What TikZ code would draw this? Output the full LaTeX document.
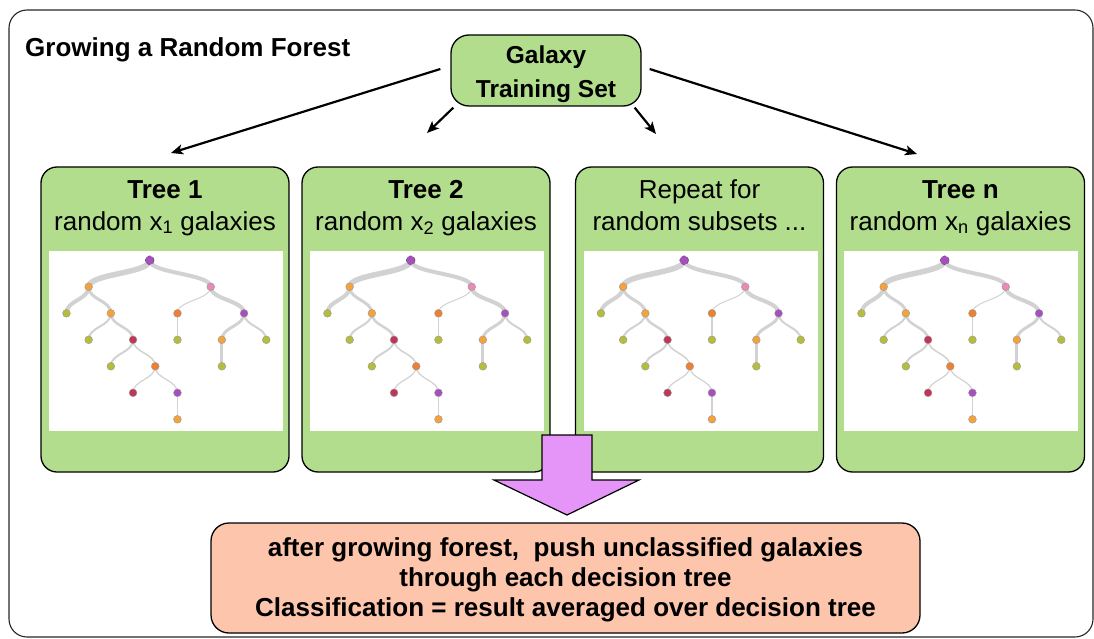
\documentclass[tikz,border=0pt]{standalone}
\usepackage{fontspec}
\setmainfont{Liberation Sans}
\usetikzlibrary{calc,arrows.meta}
\pgfdeclarelayer{edges}
\pgfdeclarelayer{dots}
\pgfsetlayers{main,edges,dots}
\definecolor{boxgreen}{HTML}{B1DD8C}
\definecolor{salmonfill}{HTML}{FCC5AC}
\definecolor{arrowpink}{HTML}{E595F7}
\definecolor{tpurple}{HTML}{A550BD}
\definecolor{torange}{HTML}{F5A13C}
\definecolor{tpink}{HTML}{E98BB5}
\definecolor{tolive}{HTML}{B4BE3C}
\definecolor{tdorange}{HTML}{EF7F33}
\definecolor{tcrimson}{HTML}{C13559}
\definecolor{tedgec}{HTML}{D2D2D2}
\tikzset{
  frame/.style={draw=black!85, line width=1.1pt, rounded corners=18pt, minimum width=1084pt, minimum height=627pt, inner sep=0pt},
  gbox/.style={draw=black, fill=boxgreen, line width=1.3pt, rounded corners=16pt, inner sep=0pt},
  treebox/.style={gbox, minimum width=248pt, minimum height=305pt},
  img/.style={fill=white, inner sep=0pt, minimum width=234pt, minimum height=180pt},
  lab/.style={font=\fontsize{26}{32}\selectfont, anchor=base, inner sep=0pt},
  labb/.style={lab, font=\bfseries\fontsize{26}{32}\selectfont},
  gallab/.style={font=\bfseries\fontsize{24.5}{33}\selectfont, anchor=base, inner sep=0pt},
  resbox/.style={draw=black, fill=salmonfill, line width=1.3pt, rounded corners=18pt, minimum width=709pt, minimum height=110pt, inner sep=0pt},
  restext/.style={align=center, inner sep=0pt, font=\bfseries\fontsize{26}{30}\selectfont},
  arr/.style={line width=2.2pt, -{Stealth[length=12pt,width=10pt,inset=3pt]}},
  blockarrow/.style={draw=black, fill=arrowpink, line width=1.2pt, line join=miter},
  tdot/.style={circle, inner sep=0pt, minimum size=7.8pt, draw=black!40, line width=0.4pt},
  tedge/.style={draw=tedgec, line cap=round},
}
\newcommand\drawtree[3]{%
  \begin{scope}[shift={(#2,#3)}]
    \begin{pgfonlayer}{dots}
      \node[tdot, fill=tpurple, draw=black!70, dashed, minimum size=9pt] (#1n0) at (0,0) {};
      \foreach \n/\c/\d/\col in {1/1/1/torange,2/6.5/1/tpink,3/0/2/tolive,4/2/2/torange,5/5/2/tdorange,6/8/2/tpurple,7/1/3/tolive,8/3/3/tcrimson,9/5/3/tolive,10/7/3/torange,11/9/3/tolive,12/2/4/tolive,13/4/4/tdorange,14/7/4/tolive,15/3/5/tcrimson,16/5/5/tpurple,17/5/6/torange}
        \node[tdot, fill=\col] (#1n\n) at ({22.2*(\c-3.75)},{26.5*\d}) {};
    \end{pgfonlayer}
  \end{scope}
  \begin{pgfonlayer}{edges}
    \foreach \a/\b/\w in {0/1/5.5,0/2/4,1/3/4,1/4/3,4/7/2,4/8/2.5,8/12/2,8/13/1.5,13/15/1.2,13/16/1.2,16/17/1.5,2/5/1,5/9/1.5,2/6/4,6/10/3,10/14/3,6/11/2}
      \draw[tedge, line width=\w pt] let \p1=(#1n\a.center), \p2=(#1n\b.center), \p3=($(\p1)!0.5!(\p2)$) in
        (\p1) .. controls (\x1,\y3) and (\x2,\y3) .. (\p2);
  \end{pgfonlayer}
}
\begin{document}
\begin{tikzpicture}[x=1pt,y=-1pt]
\useasboundingbox (0,0) rectangle (1094,639);
\node[frame] (frame) at (551,323.5) {};
\node[font=\bfseries\fontsize{26}{30}\selectfont, anchor=base west, inner sep=0pt] (title) at (25,57) {Growing a Random Forest};

% Galaxy training set
\node[gbox, rounded corners=18pt, minimum width=190pt, minimum height=71pt] (gal) at (546,70.5) {};
\node[gallab] (galt1) at (546,64) {Galaxy};
\node[gallab] (galt2) at (546,97.5) {Training Set};

% tree boxes
\node[treebox] (box1) at (165,319.5) {};
\node[treebox] (box2) at (426,319.5) {};
\node[treebox] (box3) at (699.5,319.5) {};
\node[treebox] (box4) at (960.5,319.5) {};
\node[img] (img1) at (166,341) {};
\node[img] (img2) at (427,341) {};
\node[img] (img3) at (700.5,341) {};
\node[img] (img4) at (961,341) {};

\node[labb] (l1a) at (165,198) {Tree 1};
\node[lab]  (l1b) at (165,230) {random x\textsubscript{1} galaxies};
\node[labb] (l2a) at (426,198) {Tree 2};
\node[lab]  (l2b) at (426,230) {random x\textsubscript{2} galaxies};
\node[lab]  (l3a) at (699.5,198) {Repeat for};
\node[lab]  (l3b) at (699.5,230) {random subsets ...};
\node[labb] (l4a) at (960.5,198) {Tree n};
\node[lab]  (l4b) at (960.5,230) {random x\textsubscript{n} galaxies};

\drawtree{ta}{149.7}{260.3}
\drawtree{tb}{410.7}{260.3}
\drawtree{tc}{684.2}{260.3}
\drawtree{td}{944.7}{260.3}

% arrows from training set
\coordinate (e1) at (171,153);
\coordinate (e2) at (427,133);
\coordinate (e3) at (656,134);
\coordinate (e4) at (917,154);
\draw[arr] ($(gal.west)+(-10,-1.5)$) -- (e1);
\draw[arr] ($(gal.south west)+(3,1)$) -- (e2);
\draw[arr] ($(gal.south east)+(-7,1)$) -- (e3);
\draw[arr] ($(gal.east)+(8,-1.5)$) -- (e4);

% result box
\node[resbox] (res) at (565.5,578) {};
\node[restext] (restxt) at (565.5,580) {after growing forest, \ push unclassified galaxies\\through each decision tree\\Classification = result averaged over decision tree};

% block arrow
\draw[blockarrow] (542,435) -- (592,435) -- (592,480) -- (639,480) -- (567,515) -- (494,480) -- (542,480) -- cycle;
\end{tikzpicture}
\end{document}
